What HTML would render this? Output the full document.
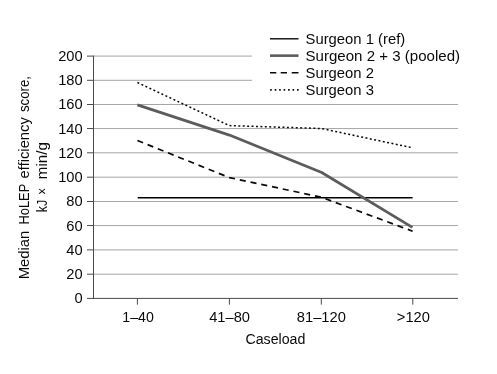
<!DOCTYPE html>
<html>
<head>
<meta charset="utf-8">
<title>Median HoLEP efficiency score by caseload</title>
<style>
  html, body { margin: 0; padding: 0; background: #ffffff; }
  body { width: 497px; height: 374px; overflow: hidden; }
  svg { display: block; filter: grayscale(1); }
  text { font-family: "Liberation Sans", sans-serif; font-size: 14px; fill: #0a0a0a; }
  .tk text { font-size: 14.7px; }
</style>
</head>
<body>
<svg width="497" height="374" viewBox="0 0 497 374">
  <rect x="0" y="0" width="497" height="374" fill="#ffffff"/>

  <!-- horizontal gridlines -->
  <g stroke="#a6a6a6" stroke-width="1" fill="none">
    <line x1="93.5" y1="56.1"  x2="458" y2="56.1"/>
    <line x1="93.5" y1="80.3"  x2="458" y2="80.3"/>
    <line x1="93.5" y1="104.5" x2="458" y2="104.5"/>
    <line x1="93.5" y1="128.55" x2="458" y2="128.55"/>
    <line x1="93.5" y1="152.8" x2="458" y2="152.8"/>
    <line x1="93.5" y1="177.2" x2="458" y2="177.2"/>
    <line x1="93.5" y1="201.5" x2="458" y2="201.5"/>
    <line x1="93.5" y1="225.55" x2="458" y2="225.55"/>
    <line x1="93.5" y1="249.9" x2="458" y2="249.9"/>
    <line x1="93.5" y1="274.2" x2="458" y2="274.2"/>
  </g>

  <!-- axes and tick marks -->
  <g stroke="#4a4a4a" stroke-width="1" fill="none">
    <line x1="93.5" y1="55.6" x2="93.5" y2="298.9"/>
    <line x1="87" y1="298.4" x2="458" y2="298.4"/>
    <line x1="87" y1="56.1"  x2="93.5" y2="56.1"/>
    <line x1="87" y1="80.3"  x2="93.5" y2="80.3"/>
    <line x1="87" y1="104.5" x2="93.5" y2="104.5"/>
    <line x1="87" y1="128.55" x2="93.5" y2="128.55"/>
    <line x1="87" y1="152.8" x2="93.5" y2="152.8"/>
    <line x1="87" y1="177.2" x2="93.5" y2="177.2"/>
    <line x1="87" y1="201.5" x2="93.5" y2="201.5"/>
    <line x1="87" y1="225.55" x2="93.5" y2="225.55"/>
    <line x1="87" y1="249.9" x2="93.5" y2="249.9"/>
    <line x1="87" y1="274.2" x2="93.5" y2="274.2"/>
    <line x1="137.4" y1="298.4" x2="137.4" y2="304.6"/>
    <line x1="229.4" y1="298.4" x2="229.4" y2="304.6"/>
    <line x1="321.3" y1="298.4" x2="321.3" y2="304.6"/>
    <line x1="412.8" y1="298.4" x2="412.8" y2="304.6"/>
  </g>

  <!-- data series -->
  <g fill="none">
    <polyline points="137.4,82.5 229.4,125.6 321.3,128.5 412.6,147.8" stroke="#0a0a0a" stroke-width="1.5" stroke-dasharray="2 2.42"/>
    <polyline points="137.4,140.5 229.4,177.6 321.3,197.2 412.6,231.2" stroke="#0a0a0a" stroke-width="1.7" stroke-dasharray="6.1 4.88"/>
    <polyline points="137.7,197.85 412.6,197.85" stroke="#000000" stroke-width="1.5"/>
    <polyline points="137.4,104.9 229.4,135.1 321.7,172.5 412.4,227.3" stroke="#5c5c5c" stroke-width="2.7" stroke-linejoin="round"/>
  </g>

  <!-- legend -->
  <rect x="252" y="22" width="218" height="78" fill="#ffffff"/>
  <g fill="none">
    <line x1="270" y1="38.8" x2="298.5" y2="38.8" stroke="#0a0a0a" stroke-width="1.4"/>
    <line x1="270" y1="55.65" x2="298.5" y2="55.65" stroke="#5c5c5c" stroke-width="2.6"/>
    <line x1="270" y1="72.8" x2="298.5" y2="72.8" stroke="#0a0a0a" stroke-width="1.5" stroke-dasharray="6.3 4.4 6.3 4.7 7 10"/>
    <line x1="270.2" y1="89.9" x2="299.4" y2="89.9" stroke="#0a0a0a" stroke-width="1.6" stroke-dasharray="1.6 2.87"/>
  </g>
  <g>
    <text id="l1" transform="translate(305.5 43.6) scale(1 1.05)" textLength="99.8" lengthAdjust="spacingAndGlyphs">Surgeon 1 (ref)</text>
    <text id="l2" transform="translate(305.5 60.55) scale(1 1.05)" textLength="154.6" lengthAdjust="spacingAndGlyphs">Surgeon 2 + 3 (pooled)</text>
    <text id="l3" transform="translate(305.5 77.5) scale(1 1.05)" textLength="68.4" lengthAdjust="spacingAndGlyphs">Surgeon 2</text>
    <text id="l4" transform="translate(305.5 94.55) scale(1 1.05)" textLength="68.4" lengthAdjust="spacingAndGlyphs">Surgeon 3</text>
  </g>

  <!-- y tick labels -->
  <g class="tk" text-anchor="end">
    <text id="y200" transform="translate(82.7 60.95) scale(1 1.055)">200</text>
    <text transform="translate(82.7 85.15) scale(1 1.055)">180</text>
    <text transform="translate(82.7 109.35) scale(1 1.055)">160</text>
    <text transform="translate(82.7 133.65) scale(1 1.055)">140</text>
    <text transform="translate(82.7 157.85) scale(1 1.055)">120</text>
    <text transform="translate(82.7 182.05) scale(1 1.055)">100</text>
    <text transform="translate(82.7 206.35) scale(1 1.055)">80</text>
    <text transform="translate(82.7 230.55) scale(1 1.055)">60</text>
    <text transform="translate(82.7 254.75) scale(1 1.055)">40</text>
    <text transform="translate(82.7 279.05) scale(1 1.055)">20</text>
    <text id="y0" transform="translate(82.7 303.25) scale(1 1.055)">0</text>
  </g>

  <!-- x tick labels -->
  <g class="tk" text-anchor="middle">
    <text id="x1" transform="translate(138.1 321.6) scale(1 1.055)" textLength="31.5" lengthAdjust="spacingAndGlyphs">1–40</text>
    <text id="x2" transform="translate(229.6 321.6) scale(1 1.055)">41–80</text>
    <text id="x3" transform="translate(321.3 321.6) scale(1 1.055)">81–120</text>
    <text id="x4" transform="translate(413.4 321.6) scale(1 1.055)">&gt;120</text>
    <text id="xt" transform="translate(275.4 343.7) scale(1 1.02)" style="font-size:14.2px">Caseload</text>
  </g>

  <!-- y axis title -->
  <g lengthAdjust="spacingAndGlyphs">
    <text id="w1" transform="translate(29.1 279.3) rotate(-90) scale(1 1.05)" textLength="48.6" lengthAdjust="spacingAndGlyphs">Median</text>
    <text id="w2" transform="translate(29.1 224.4) rotate(-90) scale(1 1.05)" textLength="40.6" lengthAdjust="spacingAndGlyphs">HoLEP</text>
    <text id="w3" transform="translate(29.1 178.4) rotate(-90) scale(1 1.05)" textLength="61.2" lengthAdjust="spacingAndGlyphs">efficiency</text>
    <text id="w4" transform="translate(29.1 112.0) rotate(-90) scale(1 1.05)" textLength="36.0" lengthAdjust="spacingAndGlyphs">score,</text>
    <text id="w5" transform="translate(46.8 212.3) rotate(-90) scale(1 1.05)" textLength="12.4" lengthAdjust="spacingAndGlyphs">kJ</text>
    <text id="w6" transform="translate(46.8 194.8) rotate(-90) scale(1 1.05)" textLength="6.8" lengthAdjust="spacingAndGlyphs">×</text>
    <text id="w7" transform="translate(46.8 179.2) rotate(-90) scale(1 1.05)" textLength="37.0" lengthAdjust="spacingAndGlyphs">min/g</text>
  </g>
</svg>
</body>
</html>
